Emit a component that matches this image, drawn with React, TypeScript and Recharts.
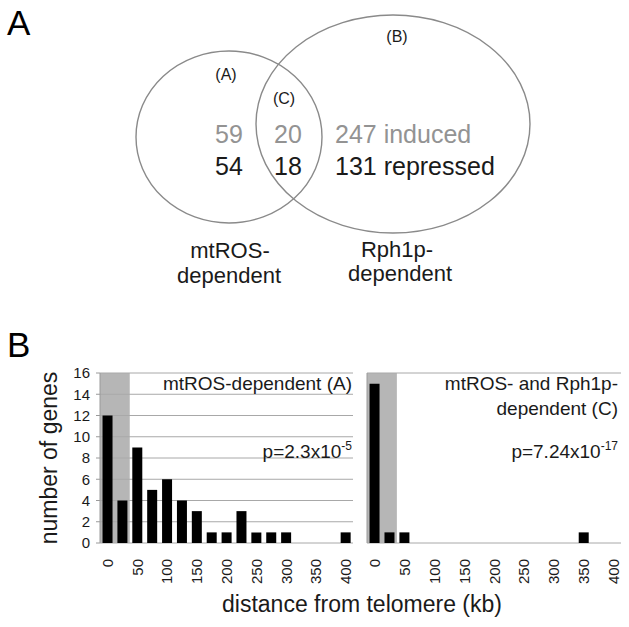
import React from 'react';
import {
  BarChart, Bar, XAxis, YAxis, CartesianGrid, ReferenceArea, Surface,
} from 'recharts';

// histogram bins (kb from telomere) and gene counts
const BINS = [0, 25, 50, 75, 100, 125, 150, 175, 200, 225, 250, 275, 300, 325, 350, 375, 400];
const COUNTS_A = [12, 4, 9, 5, 6, 4, 3, 1, 1, 3, 1, 1, 1, 0, 0, 0, 1];
const COUNTS_C = [15, 1, 1, 0, 0, 0, 0, 0, 0, 0, 0, 0, 0, 0, 1, 0, 0];
const Y_TICKS = [0, 2, 4, 6, 8, 10, 12, 14, 16];
const SHADED = ['0', '25'];

// venn counts: [A only, C (overlap), B only]
const VENN_REGIONS = ['(A)', '(C)', '(B)'];
const INDUCED = [59, 20, 247];
const REPRESSED = [54, 18, 131];

const FONT = '"Liberation Sans", Arial, Helvetica, sans-serif';
const INK = '#1a1a1a';
const AXIS = '#9a9a9a';

const EDGES = BINS.map((_, i) => i).concat(BINS.length);

const toRows = (counts: number[]) => BINS.map((b, i) => ({ bin: String(b), count: counts[i] }));
const dataA = toRows(COUNTS_A);
const dataC = toRows(COUNTS_C);

const BinTick = (props: any) => {
  const { x, y, payload } = props;
  if (Number(payload.value) % 50 !== 0) return null;
  return (
    <text
      x={x}
      y={y}
      transform={`rotate(-90 ${x} ${y})`}
      textAnchor="end"
      dominantBaseline="central"
      fontSize={15}
      fontFamily={FONT}
      fill={INK}
    >
      {payload.value}
    </text>
  );
};

const Histogram = ({ data, showY, width, left }: { data: any[]; showY: boolean; width: number; left: number }) => (
  <div style={{ position: 'absolute', left, top: 360 }}>
    <BarChart
      width={width}
      height={267}
      data={data}
      margin={{ top: 13, right: showY ? 7 : 8, left: 0, bottom: 0 }}
      barCategoryGap="17%"
    >
      <CartesianGrid xAxisId="cat" vertical={false} stroke="#a8a8a8" />
      <ReferenceArea
        xAxisId="cat"
        x1={SHADED[0]}
        x2={SHADED[SHADED.length - 1]}
        y1={0}
        y2={16}
        fill="#a9a9a9"
        fillOpacity={0.85}
        stroke="none"
      />
      <XAxis
        xAxisId="edge"
        type="number"
        domain={[0, BINS.length]}
        ticks={EDGES}
        interval={0}
        tick={false}
        tickSize={5}
        height={0}
        axisLine={{ stroke: AXIS }}
        tickLine={{ stroke: AXIS }}
      />
      <XAxis
        xAxisId="cat"
        dataKey="bin"
        type="category"
        interval={0}
        tick={<BinTick />}
        tickLine={false}
        axisLine={false}
        tickSize={6}
        tickMargin={10}
        height={84}
      />
      {showY ? (
        <YAxis
          domain={[0, 16]}
          ticks={Y_TICKS}
          interval={0}
          width={100}
          tickSize={4}
          tickMargin={6}
          axisLine={{ stroke: AXIS }}
          tickLine={{ stroke: AXIS }}
          tick={{ fontSize: 15, fill: INK, fontFamily: FONT }}
        />
      ) : (
        <YAxis
          domain={[0, 16]}
          ticks={Y_TICKS}
          interval={0}
          width={7}
          tick={false}
          tickLine={false}
          axisLine={{ stroke: AXIS }}
        />
      )}
      <Bar xAxisId="cat" dataKey="count" fill="#000" isAnimationActive={false} />
    </BarChart>
  </div>
);

const Venn = () => {
  const numX = [229, 288, 335];
  const anchors: ('middle' | 'start')[] = ['middle', 'middle', 'start'];
  const labelPos = [[226, 80], [284, 104], [397, 42]];
  return (
    <Surface width={629} height={310} style={{ position: 'absolute', left: 0, top: 0 }}>
      <ellipse cx={229} cy={137} rx={93} ry={86} fill="none" stroke="#8a8a8a" strokeWidth={1.4} />
      <ellipse cx={393} cy={124} rx={137} ry={109} fill="none" stroke="#8a8a8a" strokeWidth={1.4} />
      {VENN_REGIONS.map((r, i) => (
        <text key={r} x={labelPos[i][0]} y={labelPos[i][1]} textAnchor="middle" fontSize={16} fill={INK}>{r}</text>
      ))}
      {INDUCED.map((v, i) => (
        <text key={`i${i}`} x={numX[i]} y={143} textAnchor={anchors[i]} fontSize={25} fill="#939393">
          {i === 2 ? `${v} induced` : v}
        </text>
      ))}
      {REPRESSED.map((v, i) => (
        <text key={`r${i}`} x={numX[i]} y={175} textAnchor={anchors[i]} fontSize={25} fill={INK}>
          {i === 2 ? `${v} repressed` : v}
        </text>
      ))}
      <text x={230} y={258} textAnchor="middle" fontSize={22} fill={INK}>mtROS-</text>
      <text x={229} y={283} textAnchor="middle" fontSize={22} fill={INK}>dependent</text>
      <text x={397} y={257} textAnchor="middle" fontSize={22} fill={INK}>Rph1p-</text>
      <text x={400} y={281} textAnchor="middle" fontSize={22} fill={INK}>dependent</text>
    </Surface>
  );
};

const Overlay = () => (
  <Surface width={629} height={627} style={{ position: 'absolute', left: 0, top: 0, pointerEvents: 'none' }}>
    <text x={7} y={35} fontSize={35} fill="#000">A</text>
    <text x={7} y={357} fontSize={35} fill="#000">B</text>
    <text x={352} y={390} textAnchor="end" fontSize={19} fill={INK}>mtROS-dependent (A)</text>
    <text x={352} y={458} textAnchor="end" fontSize={19} fill={INK}>
      p=2.3x10<tspan dy={-8} fontSize={12}>-5</tspan>
    </text>
    <text x={618} y={390} textAnchor="end" fontSize={19} fill={INK}>mtROS- and Rph1p-</text>
    <text x={618} y={415} textAnchor="end" fontSize={19} fill={INK}>dependent (C)</text>
    <text x={618} y={458} textAnchor="end" fontSize={19} fill={INK}>
      p=7.24x10<tspan dy={-8} fontSize={12}>-17</tspan>
    </text>
    <text x={49} y={458} transform="rotate(-90 49 458)" textAnchor="middle" dominantBaseline="central" fontSize={23} fill={INK}>
      number of genes
    </text>
    <text x={362} y={612} textAnchor="middle" fontSize={23} fill={INK}>distance from telomere (kb)</text>
  </Surface>
);

export default function App() {
  return (
    <div style={{ position: 'absolute', left: 0, top: 0, width: 629, height: 627, background: '#fff', fontFamily: FONT, overflow: 'hidden' }}>
      <Venn />
      <Histogram data={dataA} showY width={360} left={0} />
      <Histogram data={dataC} showY={false} width={269} left={360} />
      <Overlay />
    </div>
  );
}
